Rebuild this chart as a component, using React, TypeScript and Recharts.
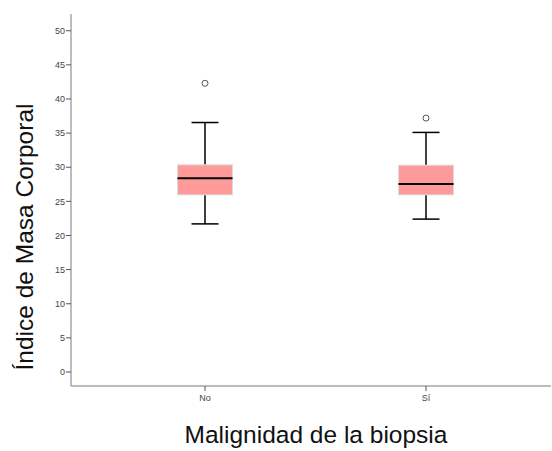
import { ComposedChart, Bar, Scatter, XAxis, YAxis, Label } from 'recharts'

const groups = ['No', 'Sí']
const whiskerLow = [21.7, 22.4]
const q1 = [25.95, 25.95]
const median = [28.4, 27.55]
const q3 = [30.35, 30.3]
const whiskerHigh = [36.55, 35.1]
const outliers = [42.3, 37.2]
const yTicks = [0, 5, 10, 15, 20, 25, 30, 35, 40, 45, 50]

const data = groups.map((g, i) => ({
  group: g,
  range: [whiskerLow[i], whiskerHigh[i]],
  low: whiskerLow[i],
  q1: q1[i],
  median: median[i],
  q3: q3[i],
  high: whiskerHigh[i],
  outlier: outliers[i],
}))

const FONT = '"Liberation Sans", Arial, sans-serif'

// the bar spans low..high; box, median and caps are placed on that span
const BoxShape = (props: any) => {
  const { x, y, width, height, payload } = props
  const { low, high } = payload
  const py = (v: number) => y + (height * (high - v)) / (high - low)
  const cx = x + width / 2
  const capW = 27
  return (
    <g>
      <line x1={cx} x2={cx} y1={py(high)} y2={py(low)} stroke="#000" strokeWidth={1.5} />
      <line x1={cx - capW / 2} x2={cx + capW / 2} y1={py(high)} y2={py(high)} stroke="#000" strokeWidth={1.5} />
      <line x1={cx - capW / 2} x2={cx + capW / 2} y1={py(low)} y2={py(low)} stroke="#000" strokeWidth={1.5} />
      <rect
        x={x}
        y={py(payload.q3)}
        width={width}
        height={py(payload.q1) - py(payload.q3)}
        fill="#ff9a9a"
        stroke="#dcdcdc"
        strokeWidth={1}
      />
      <line x1={x} x2={x + width} y1={py(payload.median)} y2={py(payload.median)} stroke="#000" strokeWidth={2} />
    </g>
  )
}

const OutlierShape = (props: any) => {
  const { cx, cy } = props
  return <circle cx={cx} cy={cy} r={3} fill="#fff" stroke="#555" strokeWidth={1} />
}

export default function App() {
  return (
    <div style={{ position: 'absolute', left: 0, top: 0, background: '#fff' }}>
      <ComposedChart
        width={552}
        height={451}
        data={data}
        margin={{ top: 14, right: 1, bottom: 35, left: 31 }}
        style={{ fontFamily: FONT }}
      >
        <XAxis
          dataKey="group"
          padding={{ left: 23.5, right: 14.5 }}
          height={30}
          axisLine={{ stroke: '#a6a6a6', strokeWidth: 1.5 }}
          tickLine={{ stroke: '#555' }}
          tickSize={5}
          tickMargin={4}
          tick={{ fontSize: 9, fill: '#444', fontFamily: FONT }}
        >
          <Label
            content={() => (
              <text x={316} y={443} textAnchor="middle" fontSize={24.5} fill="#111" fontFamily={FONT}>
                Malignidad de la biopsia
              </text>
            )}
          />
        </XAxis>
        <XAxis
          xAxisId="top"
          dataKey="group"
          orientation="top"
          height={0}
          tick={false}
          tickLine={false}
          axisLine={{ stroke: '#cfcfcf', strokeWidth: 1.5 }}
        />
        <YAxis
          type="number"
          domain={[-2.05, 52.45]}
          ticks={yTicks}
          width={40}
          allowDataOverflow
          axisLine={{ stroke: '#a6a6a6', strokeWidth: 1.5 }}
          tickLine={{ stroke: '#555' }}
          tickSize={5}
          tickMargin={1}
          tick={{ fontSize: 9, fill: '#444', fontFamily: FONT }}
        >
          <Label
            content={() => (
              <text
                x={33}
                y={237}
                transform="rotate(-90 33 237)"
                textAnchor="middle"
                fontSize={24.5}
                fill="#111"
                fontFamily={FONT}
              >
                Índice de Masa Corporal
              </text>
            )}
          />
        </YAxis>
        <YAxis
          yAxisId="right"
          orientation="right"
          width={0}
          tick={false}
          tickLine={false}
          axisLine={{ stroke: '#cfcfcf', strokeWidth: 1.5 }}
        />
        <Bar dataKey="range" barSize={55} shape={BoxShape} isAnimationActive={false} />
        <Scatter dataKey="outlier" shape={OutlierShape} isAnimationActive={false} />
      </ComposedChart>
    </div>
  )
}
